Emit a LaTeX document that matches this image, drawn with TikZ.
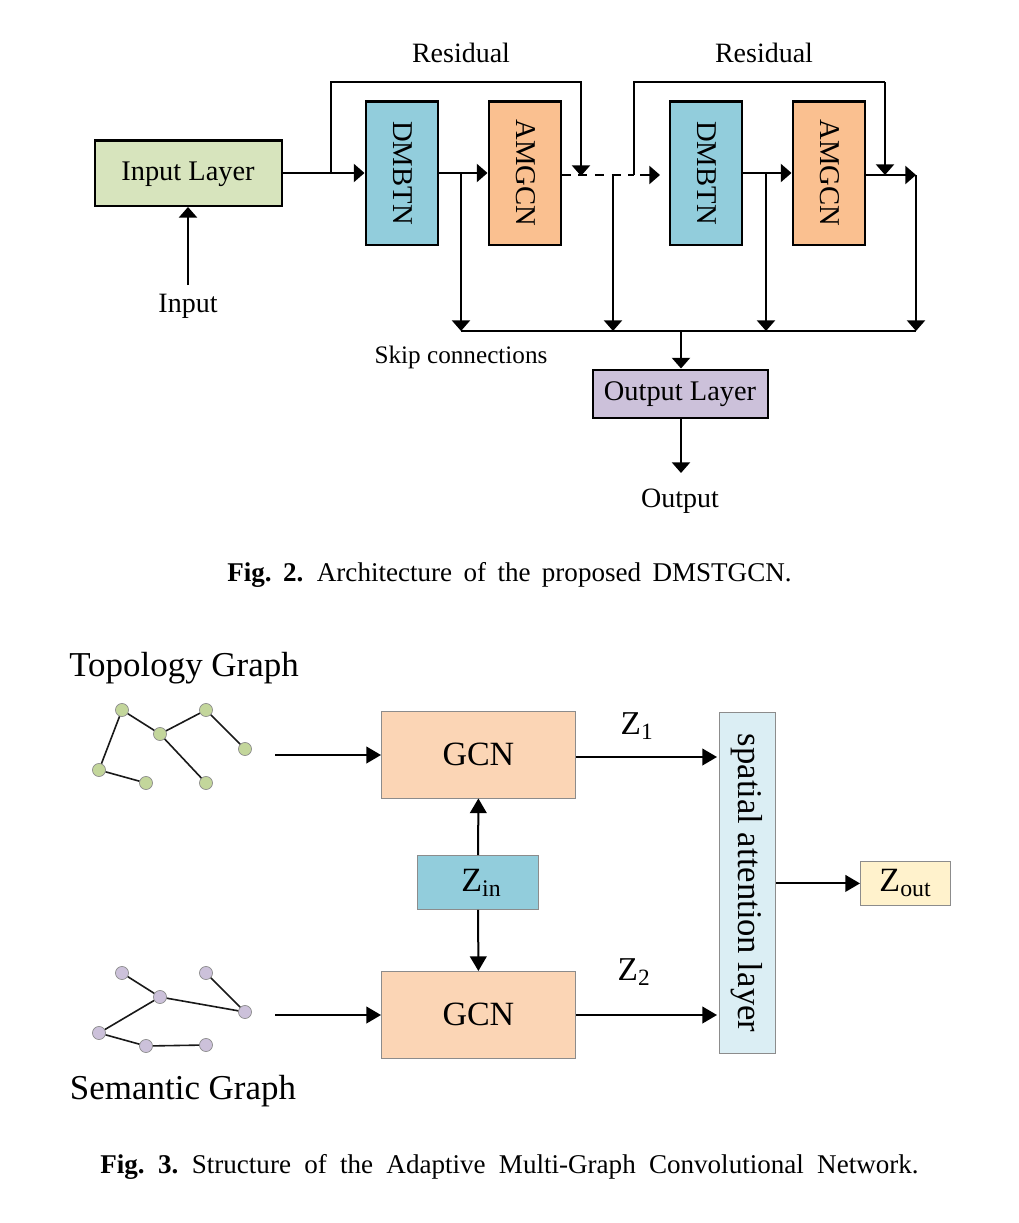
\documentclass[tikz,border=0pt]{standalone}
\usepackage{fontspec}
\setmainfont{Liberation Serif}
\usetikzlibrary{arrows.meta}
\newcommand{\fs}[1]{\fontsize{#1}{#1}\selectfont}
\newcommand{\capfont}{\fs{20.3}\spaceskip=0.42em plus 0pt}
\newcommand{\capfontb}{\fs{20.3}\spaceskip=0.49em plus 0pt}
\tikzset{
  px/.style={x=0.75pt,y=-0.75pt},
  box/.style={draw=black,line width=1.6pt,inner sep=0pt,anchor=north west,font=\fs{21.3}},
  sbox/.style={draw=black!45,line width=0.6pt,inner sep=0pt,anchor=north west,font=\fs{25.5}},
  lab/.style={inner sep=0pt,font=\fs{21}},
  biglab/.style={inner sep=0pt,font=\fs{26.2}},
  rot/.style={inner sep=0pt,rotate=-90,font=\fs{21.5}},
  capnode/.style={inner sep=0pt,font=\capfont},
  wire/.style={line width=1.7pt,line join=miter},
  arr/.style={wire,-{Triangle[length=8pt,width=13.5pt]}},
  sarr/.style={line width=1.5pt,-{Triangle[length=11pt,width=12.5pt]}},
  gedge/.style={line width=1.2pt,black!90},
  gnodeA/.style={circle,draw=black!45,line width=0.5pt,fill=gA,minimum size=9.8pt,inner sep=0pt},
  gnodeB/.style={circle,draw=black!45,line width=0.5pt,fill=gB,minimum size=9.8pt,inner sep=0pt},
}
\definecolor{inputc}{HTML}{D7E4BD}
\definecolor{dmb}{HTML}{92CDDC}
\definecolor{amg}{HTML}{FAC090}
\definecolor{outc}{HTML}{CCC1DA}
\definecolor{gcnc}{HTML}{FBD5B5}
\definecolor{zinc}{HTML}{92CDDC}
\definecolor{spat}{HTML}{DBEEF4}
\definecolor{zoutc}{HTML}{FFF2CC}
\definecolor{gA}{HTML}{C3D69B}
\definecolor{gB}{HTML}{CCC1DA}
\begin{document}
\begin{tikzpicture}[px]
\useasboundingbox[fill=white] (0,0) rectangle (1018,1223);
% ---- Fig 2 boxes
\node[box,fill=inputc,minimum width=140.5pt,minimum height=49pt] (il) at (93.5,139.5) {};
\node[box,fill=dmb,minimum width=54pt,minimum height=107.5pt] (d1) at (364.5,100.5) {};
\node[box,fill=amg,minimum width=54pt,minimum height=107.5pt] (a1) at (487.5,100.5) {};
\node[box,fill=dmb,minimum width=54pt,minimum height=107.5pt] (d2) at (668.5,100.5) {};
\node[box,fill=amg,minimum width=54pt,minimum height=107.5pt] (a2) at (791.5,100.5) {};
\node[lab,font=\fs{21.3}] (ilt) at (188,174) {Input Layer};
\node[rot] (d1t) at (403,173) {DMBTN};
\node[rot] (a1t) at (526,173) {AMGCN};
\node[rot] (d2t) at (707,173) {DMBTN};
\node[rot] (a2t) at (830,173) {AMGCN};
\node[box,fill=outc,minimum width=131.5pt,minimum height=36pt] (ol) at (591.5,368.5) {};
\node[lab,font=\fs{21.3}] (olt) at (680,394) {Output Layer};
\node[lab] (inp) at (188,306) {Input};
\node[lab] (outp) at (680,501) {Output};
\node[lab] (res1) at (461,53) {Residual};
\node[lab] (res2) at (764,53) {Residual};
\node[lab,font=\fs{18.9}] (skip) at (461,357) {Skip connections};
% junction coordinates
\coordinate (j1) at (331,173);
\coordinate (t1a) at (331,82);
\coordinate (t1b) at (581,82);
\coordinate (e1) at (581,176);
\coordinate (m1) at (461,173);
\coordinate (b1) at (461,331);
\coordinate (m2) at (613,175);
\coordinate (b2) at (613,331);
\coordinate (j2) at (634,175);
\coordinate (j2b) at (640,175);
\coordinate (t2a) at (634,82);
\coordinate (t2b) at (885,82);
\coordinate (e2) at (885,175);
\coordinate (a2o) at (660,175);
\coordinate (m3) at (766,173);
\coordinate (b3) at (766,331);
\coordinate (r4) at (916,175);
\coordinate (b4) at (916,331);
\coordinate (o1) at (681,331);
\coordinate (inpb) at (188,285);
\coordinate (outb) at (681,473);
% connectors
\draw[arr] (il.east |- j1) -- (d1.west |- j1);
\draw[arr] (j1) -- (t1a) -- (t1b) -- (e1);
\draw[arr] (d1.east |- m1) -- (a1.west |- m1);
\draw[arr] (m1) -- (b1);
\draw[wire,dash pattern=on 6.8pt off 5.7pt] (a1.east |- m2) -- (j2);
\draw[arr] (j2b) -- (a2o);
\draw[arr] (m2) -- (b2);
\draw[wire] (j2) -- (t2a) -- (t2b);
\draw[arr] (t2b) -- (e2);
\draw[arr] (d2.east |- m3) -- (a2.west |- m3);
\draw[arr] (m3) -- (b3);
\draw[arr] (a2.east |- r4) -- (r4);
\draw[arr] (r4) -- (b4);
\draw[wire] (b1) -- (b4);
\draw[arr] (o1) -- (ol.north -| o1);
\draw[arr] (ol.south -| o1) -- (outb);
\draw[arr] (inpb) -- (il.south -| inpb);
% captions
\node[capnode] (c2) at (509.5,575) {\textbf{Fig.\ 2.}\hspace{0.5em}Architecture of the proposed DMSTGCN.};
% ---- Fig 3
\node[biglab] (topo) at (184,668) {Topology Graph};
\node[biglab] (sem) at (183,1091) {Semantic Graph};
\node[sbox,fill=gcnc,minimum width=145.5pt,minimum height=65pt] (g1) at (381,711) {GCN};
\node[sbox,fill=gcnc,minimum width=145.5pt,minimum height=65pt] (g2) at (381,971) {GCN};
\node[sbox,fill=zinc,minimum width=91pt,minimum height=40.5pt] (zin) at (417,855) {\hspace{5pt}Z\textsubscript{in}};
\node[sbox,fill=spat,minimum width=42pt,minimum height=256pt] (sp) at (719,712) {};
\node[inner sep=0pt,rotate=-90,font=\fs{26}] (spt) at (747,883) {spatial attention layer};
\node[sbox,fill=zoutc,minimum width=67.5pt,minimum height=33pt] (zo) at (860,861) {Z\textsubscript{out}};
\node[biglab,font=\fs{25}] (z1) at (637,726) {Z\textsubscript{1}};
\node[biglab,font=\fs{25}] (z2) at (634,972) {Z\textsubscript{2}};
\coordinate (s1) at (275,755);
\coordinate (s2) at (275,1015);
\coordinate (q1) at (717,757);
\coordinate (q2) at (717,1015);
\draw[sarr] (s1) -- (g1.west |- s1);
\draw[sarr] (s2) -- (g2.west |- s2);
\draw[sarr] (g1.east |- q1) -- (q1);
\draw[sarr] (g2.east |- q2) -- (q2);
\draw[sarr] (zin.north) -- (g1.south);
\draw[sarr] (zin.south) -- (g2.north);
\draw[sarr] (sp.east |- zo.west) -- (zo.west);
% topology graph
\node[gnodeA] (ta) at (122,710) {};
\node[gnodeA] (tb) at (206,710) {};
\node[gnodeA] (tc) at (160,734) {};
\node[gnodeA] (td) at (245,749) {};
\node[gnodeA] (te) at (99,770) {};
\node[gnodeA] (tf) at (146,783) {};
\node[gnodeA] (tg) at (206,783) {};
\draw[gedge] (ta) -- (tc);
\draw[gedge] (tc) -- (tb);
\draw[gedge] (tb) -- (td);
\draw[gedge] (ta) -- (te);
\draw[gedge] (te) -- (tf);
\draw[gedge] (tc) -- (tg);
% semantic graph
\node[gnodeB] (sa) at (122,973) {};
\node[gnodeB] (sb) at (206,973) {};
\node[gnodeB] (sc) at (160,997) {};
\node[gnodeB] (sd) at (245,1012) {};
\node[gnodeB] (se) at (99,1033) {};
\node[gnodeB] (sf) at (146,1046) {};
\node[gnodeB] (sg) at (206,1045) {};
\draw[gedge] (sa) -- (sc);
\draw[gedge] (sc) -- (sd);
\draw[gedge] (sb) -- (sd);
\draw[gedge] (sc) -- (se);
\draw[gedge] (se) -- (sf);
\draw[gedge] (sf) -- (sg);
\node[capnode,font=\capfontb] (c3) at (509.5,1167) {\textbf{Fig.\ 3.}\hspace{0.5em}Structure of the Adaptive Multi-Graph Convolutional Network.};
\end{tikzpicture}
\end{document}
